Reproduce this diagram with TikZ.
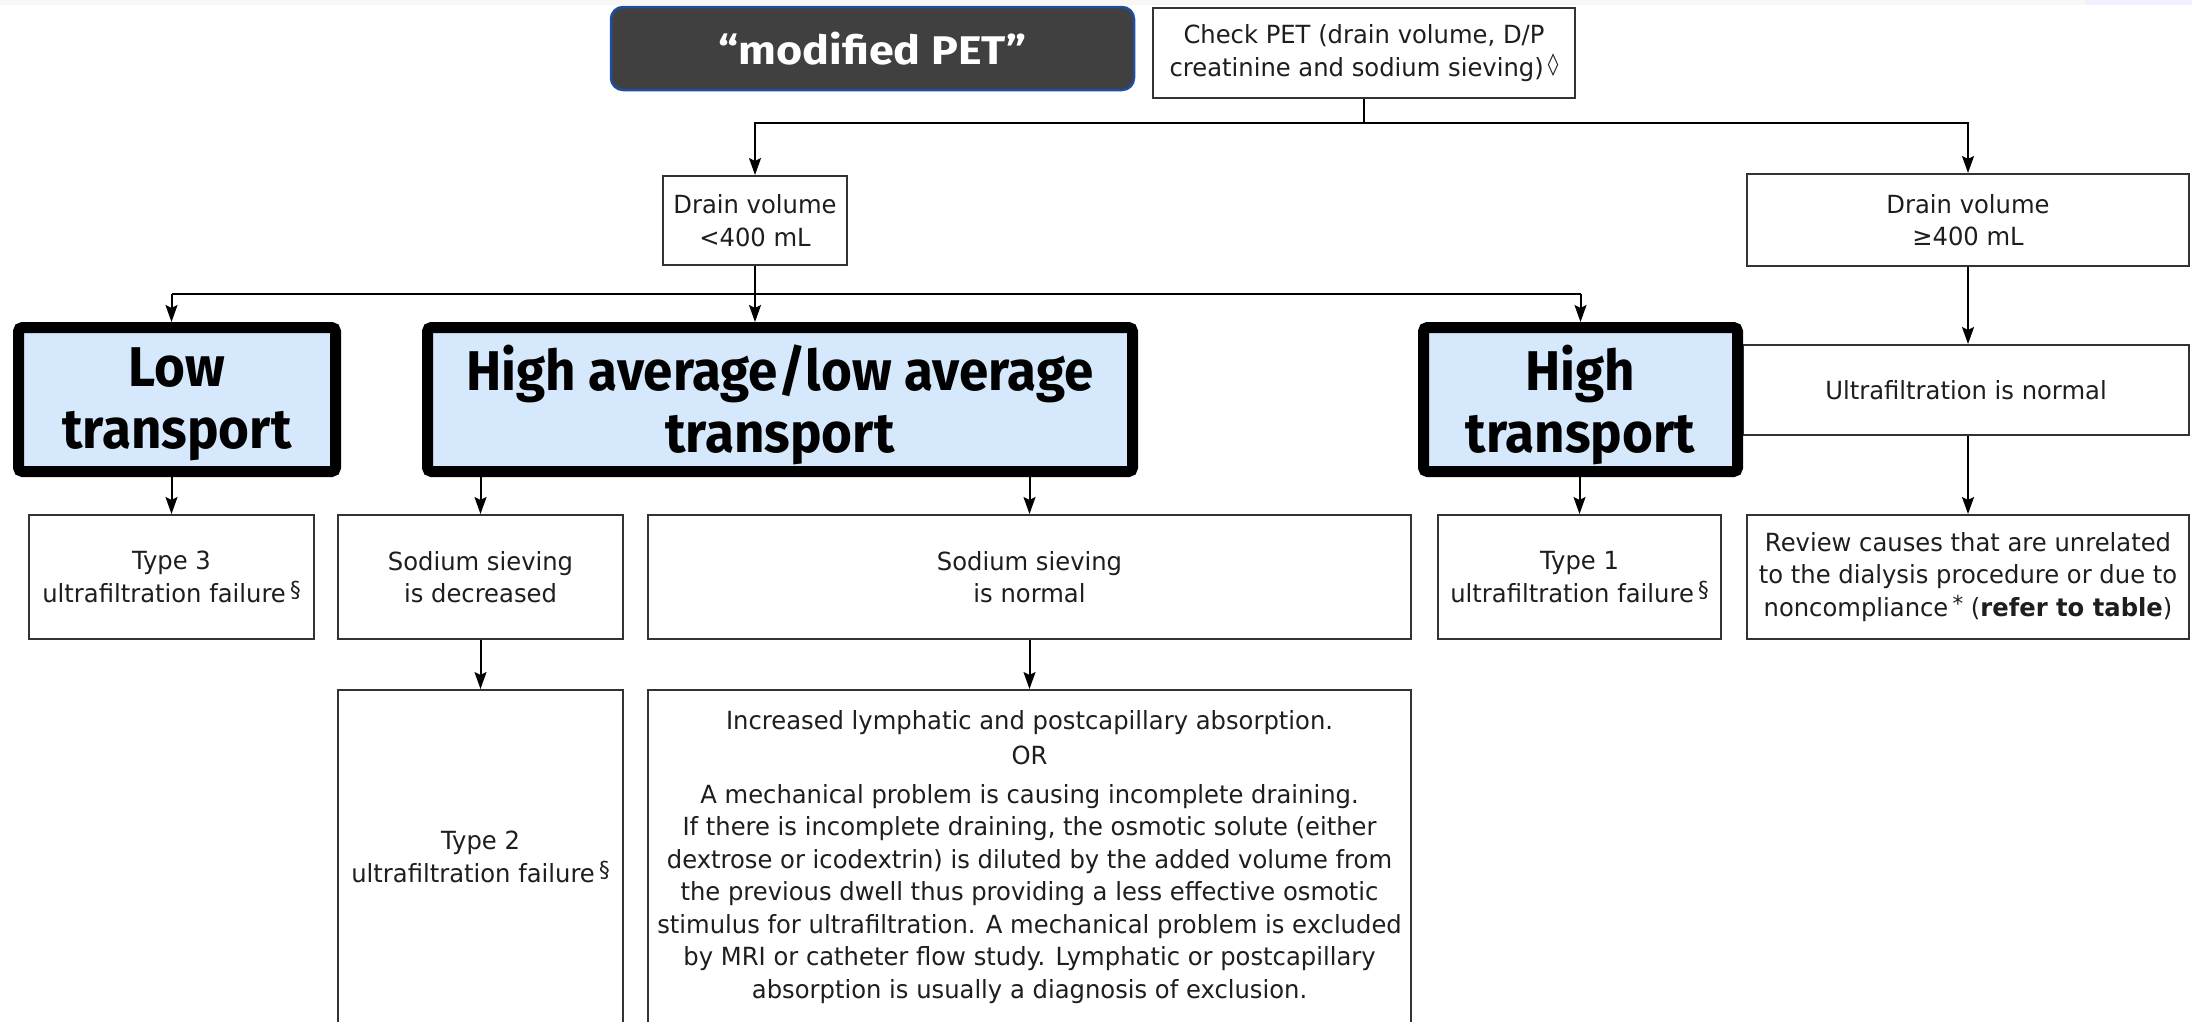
\documentclass[tikz,border=0pt]{standalone}
\usepackage{fontspec}
\setmainfont{DejaVu Sans}[FakeStretch=0.97]
\newfontfamily\bigfont{Fira Sans}[FakeStretch=0.945]
\newfontfamily\petfont{Fira Sans}[FakeStretch=1.12]
\usetikzlibrary{arrows.meta}
\definecolor{hlblue}{RGB}{214,232,252}
\definecolor{petgray}{RGB}{64,64,64}
\definecolor{petblue}{RGB}{31,78,158}
\definecolor{txt}{RGB}{30,30,30}
\newcommand{\supmark}[1]{\,\raisebox{5pt}{\fontsize{22}{22}\selectfont #1}}
\pgfdeclarelayer{bg}
\pgfsetlayers{bg,main}
\begin{document}
\begin{tikzpicture}[x=1pt,y=-1pt,
  box/.style={draw=black!80, line width=2pt, fill=white, align=center, inner sep=0pt, text=txt, font=\fontsize{25}{32.5}\selectfont},
  hl/.style={draw=black, line width=11pt, fill=hlblue, rounded corners=4pt, inner sep=0pt, minimum height=144pt},
  hltext/.style={align=center, inner sep=0pt, font=\bigfont\bfseries\fontsize{56}{62}\selectfont},
  arr/.style={-{Stealth[length=17pt,width=12pt,inset=3pt]}, line width=2pt, black},
  ln/.style={line width=2pt, black}]
\useasboundingbox (0,0) rectangle (2192,1021);
\fill[gray!6] (0,0) rectangle (2085,5);
\fill[blue!6] (2085,0) rectangle (2192,5);

\node[draw=petblue, line width=2.5pt, fill=petgray, rounded corners=12pt, minimum width=523pt, minimum height=83pt, text=white, font=\petfont\bfseries\fontsize{40}{44}\selectfont] (mpet) at (872.5,48.5) {“modified PET”};
\node[box, minimum width=422pt, minimum height=90pt] (check) at (1364,53) {Check PET (drain volume, D/P\\creatinine and sodium sieving)\supmark{◊}};

\node[box, minimum width=184pt, minimum height=89pt] (dv1) at (755,220.5) {Drain volume\\<400 mL};
\node[box, minimum width=442pt, minimum height=92pt] (dv2) at (1968,220) {Drain volume\\≥400 mL};

\node[box, minimum width=446pt, minimum height=90pt] (ufn) at (1966,390) {Ultrafiltration is normal};
\node[hl, minimum width=317pt] (low) at (177,399.5) {};
\node[hl, minimum width=705pt] (hilo) at (780,399.5) {};
\node[hl, minimum width=314pt] (high) at (1580.5,399.5) {};
\node[hltext] (lowt) at ([yshift=-5pt]low.center) {Low\\transport};
\node[hltext] (hilot) at ([yshift=-5pt]hilo.center) {High average/low average\\transport};
\node[hltext] (hight) at ([yshift=-5pt]high.center) {High\\transport};

\node[box, minimum width=285pt, minimum height=124pt] (t3) at (171.5,577) {Type 3\\ultrafiltration failure\supmark{§}};
\node[box, minimum width=285pt, minimum height=124pt] (sd) at (480.5,577) {Sodium sieving\\is decreased};
\node[box, minimum width=763pt, minimum height=124pt] (sn) at (1029.5,577) {Sodium sieving\\is normal};
\node[box, minimum width=283pt, minimum height=124pt] (t1) at (1579.5,577) {Type 1\\ultrafiltration failure\supmark{§}};
\node[box, minimum width=442pt, minimum height=124pt] (rev) at (1968,577) {Review causes that are unrelated\\to the dialysis procedure or due to\\noncompliance\supmark{*} (\textbf{refer to table})};

\node[box, minimum width=285pt, minimum height=334pt] (t2) at (480.5,857) {Type 2\\ultrafiltration failure\supmark{§}};
\node[box, minimum width=763pt, minimum height=334pt] (inc) at (1029.5,857) {Increased lymphatic and postcapillary absorption.\\[3pt]OR\\[6pt]A mechanical problem is causing incomplete draining.\\If there is incomplete draining, the osmotic solute (either\\dextrose or icodextrin) is diluted by the added volume from\\the previous dwell thus providing a less effective osmotic\\stimulus for ultrafiltration. A mechanical problem is excluded\\by MRI or catheter flow study. Lymphatic or postcapillary\\absorption is usually a diagnosis of exclusion.};

\begin{pgfonlayer}{bg}
\draw[ln] (check.south) -- ++(0,24) coordinate (j1);
\draw[arr] (j1) -| (dv1.north);
\draw[arr] (j1) -| (dv2.north);
\draw[ln] (dv1.south) -- ++(0,28) coordinate (j2);
\draw[ln] (t3.north |- j2) -- (high.north |- j2);
\draw[arr] (t3.north |- j2) -- (t3.north |- low.north);
\draw[arr] (j2) -- (j2 |- hilo.north);
\draw[arr] (high.north |- j2) -- (high.north);
\draw[arr] (dv2.south) -- (dv2.south |- ufn.north);
\draw[arr] (t3.north |- low.south) -- (t3.north);
\draw[arr] (sd.north |- hilo.south) -- (sd.north);
\draw[arr] (sn.north |- hilo.south) -- (sn.north);
\draw[arr] (t1.north |- high.south) -- (t1.north);
\draw[arr] (rev.north |- ufn.south) -- (rev.north);
\draw[arr] (sd.south) -- (t2.north);
\draw[arr] (sn.south) -- (inc.north);
\end{pgfonlayer}
\end{tikzpicture}
\end{document}
